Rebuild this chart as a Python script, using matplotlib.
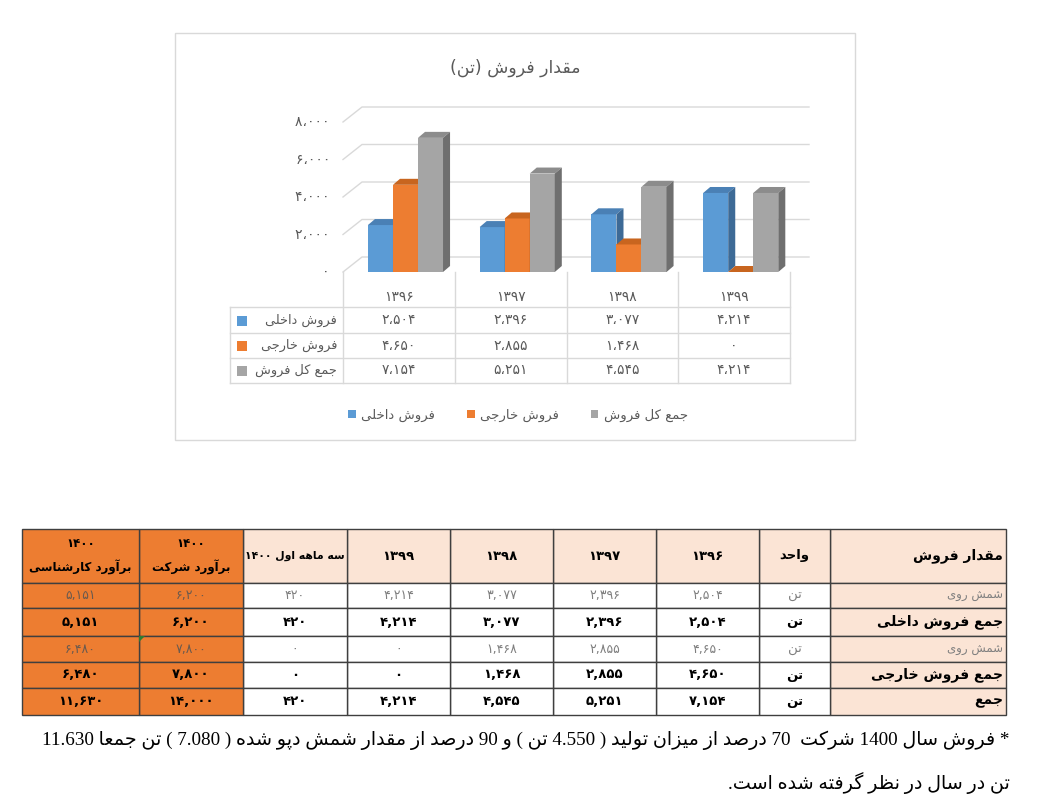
import re
import matplotlib
matplotlib.use('Agg')
import matplotlib.pyplot as plt
from matplotlib.patches import Rectangle, Polygon

plt.rcParams['font.family'] = ['DejaVu Sans']

# ---- data ----
years = ['۱۳۹۶', '۱۳۹۷', '۱۳۹۸', '۱۳۹۹']
domestic = [2504, 2396, 3077, 4214]
export = [4650, 2855, 1468, 0]
total = [7154, 5251, 4545, 4214]
series_names = ['فروش داخلی', 'فروش خارجی', 'جمع کل فروش']
y_ticks = [0, 2000, 4000, 6000, 8000]
chart_title = 'مقدار فروش (تن)'

# lower table, logical (right-to-left) column order
tbl_heads = ['مقدار فروش', 'واحد', '۱۳۹۶', '۱۳۹۷', '۱۳۹۸', '۱۳۹۹',
             'سه ماهه اول ۱۴۰۰', '۱۴۰۰\nبرآورد شرکت', '۱۴۰۰\nبرآورد کارشناسی']
tbl_labels = ['شمش روی', 'جمع فروش داخلی', 'شمش روی', 'جمع فروش خارجی', 'جمع']
tbl_bold = [False, True, False, True, True]
tbl_unit = 'تن'
tbl_vals = [
    [2504, 2396, 3077, 4214, 420, 6200, 5151],
    [2504, 2396, 3077, 4214, 420, 6200, 5151],
    [4650, 2855, 1468, 0, 0, 7800, 6480],
    [4650, 2855, 1468, 0, 0, 7800, 6480],
    [7154, 5251, 4545, 4214, 420, 14000, 11630],
]
note1 = '* فروش سال 1400 شرکت  70 درصد از میزان تولید ( 4.550 تن ) و 90 درصد از مقدار شمش دپو شده ( 7.080 ) تن جمعا 11.630'
note2 = 'تن در سال در نظر گرفته شده است.'

# ---- minimal persian shaping + rtl ordering ----
FORMS = {
    'ا': '\uFE8D\uFE8E', 'آ': '\uFE81\uFE82',
    'ب': '\uFE8F\uFE90\uFE91\uFE92', 'پ': '\uFB56\uFB57\uFB58\uFB59',
    'ت': '\uFE95\uFE96\uFE97\uFE98', 'ج': '\uFE9D\uFE9E\uFE9F\uFEA0',
    'ح': '\uFEA1\uFEA2\uFEA3\uFEA4', 'خ': '\uFEA5\uFEA6\uFEA7\uFEA8',
    'د': '\uFEA9\uFEAA', 'ر': '\uFEAD\uFEAE', 'ز': '\uFEAF\uFEB0',
    'س': '\uFEB1\uFEB2\uFEB3\uFEB4', 'ش': '\uFEB5\uFEB6\uFEB7\uFEB8',
    'ص': '\uFEB9\uFEBA\uFEBB\uFEBC', 'ظ': '\uFEC5\uFEC6\uFEC7\uFEC8',
    'ع': '\uFEC9\uFECA\uFECB\uFECC', 'ف': '\uFED1\uFED2\uFED3\uFED4',
    'ق': '\uFED5\uFED6\uFED7\uFED8', 'ک': '\uFB8E\uFB8F\uFB90\uFB91',
    'گ': '\uFB92\uFB93\uFB94\uFB95', 'ل': '\uFEDD\uFEDE\uFEDF\uFEE0',
    'م': '\uFEE1\uFEE2\uFEE3\uFEE4', 'ن': '\uFEE5\uFEE6\uFEE7\uFEE8',
    'ه': '\uFEE9\uFEEA\uFEEB\uFEEC', 'و': '\uFEED\uFEEE',
    'ی': '\uFBFC\uFBFD\uFBFE\uFBFF',
}


def shape(s):
    out = []
    for i, ch in enumerate(s):
        f = FORMS.get(ch)
        if f is None:
            out.append(ch)
            continue
        prev = s[i - 1] if i > 0 else ''
        nxt = s[i + 1] if i + 1 < len(s) else ''
        jp = prev in FORMS and len(FORMS[prev]) == 4
        jn = len(f) == 4 and nxt in FORMS
        if jp and jn:
            out.append(f[3])
        elif jp:
            out.append(f[1])
        elif jn:
            out.append(f[2])
        else:
            out.append(f[0])
    return ''.join(out)


def fa(s):
    lines = []
    for line in s.split('\n'):
        toks = re.findall(r'[0-9\u06f0-\u06f9]+(?:[.,\u060c][0-9\u06f0-\u06f9]+)*|.', shape(line))
        mirror = {'(': ')', ')': '('}
        lines.append(''.join(mirror.get(t, t) for t in reversed(toks)))
    return '\n'.join(lines)


FA_DIG = str.maketrans('0123456789', '۰۱۲۳۴۵۶۷۸۹')


def fa_num(v, sep=','):
    return f'{v:,}'.replace(',', sep).translate(FA_DIG)


# ---- figure ----
fig = plt.figure(figsize=(10.47, 8.08), dpi=100)
page = fig.add_axes([0, 0, 1, 1], zorder=0)
page.set_xlim(0, 1047)
page.set_ylim(808, 0)
page.axis('off')

GRID = '#D9D9D9'
TXT = '#595959'

# chart panel
page.add_patch(Rectangle((175, 33), 680, 407, facecolor='white', edgecolor=GRID, lw=1))
page.text(515, 68, fa(chart_title), ha='center', va='center', fontsize=12.5, color=TXT)

# bar chart axes: front face, x=-0.5..3.5 over 343..790 px, y=0..8000 over 272..122 px
ax = fig.add_axes([343 / 1047, 1 - 272 / 808, 447 / 1047, 150 / 808], zorder=1)
ax.set_xlim(-0.5, 3.5)
ax.set_ylim(0, 8000)
ax.axis('off')
ax.patch.set_visible(False)

wall_dx, wall_dy = 0.17, 800
for v in y_ticks:
    ax.plot([-0.5, -0.5 + wall_dx, 3.5 + wall_dx], [v, v + wall_dy, v + wall_dy],
            color=GRID, lw=1, clip_on=False, zorder=1)
    ax.text(-0.5, v, fa_num(v, '\u060c') + '   ', ha='right', va='center',
            fontsize=10, color=TXT, clip_on=False)

colors = [('#5B9BD5', '#4A80B5', '#3D6A96'),
          ('#ED7D31', '#C8651F', '#AE5A21'),
          ('#A5A5A5', '#8C8C8C', '#6F6F6F')]
series = [domestic, export, total]
offsets = [-0.165, 0.059, 0.283]
bw = 0.224
bdx, bdy = 0.063, 320
xs = range(len(years))
for s, vals in enumerate(series):
    front, top, side = colors[s]
    pos = [x + offsets[s] for x in xs]
    ax.bar(pos, vals, width=bw, color=front, zorder=3, clip_on=False)
    for p, v in zip(pos, vals):
        x0, x1 = p - bw / 2, p + bw / 2
        ax.add_patch(Polygon([(x0, v), (x1, v), (x1 + bdx, v + bdy), (x0 + bdx, v + bdy)],
                             closed=True, facecolor=top, edgecolor='none', zorder=3, clip_on=False))
        ax.add_patch(Polygon([(x1, 0), (x1 + bdx, bdy), (x1 + bdx, v + bdy), (x1, v)],
                             closed=True, facecolor=side, edgecolor='none', zorder=3, clip_on=False))

# chart data table (pixel layout under the axis)
cw = 447 / 4
row_y = [272, 307, 333, 358, 383]
for i in range(5):
    xv = 343 + i * cw
    page.plot([xv, xv], [272, 383], color=GRID, lw=1)
page.plot([230, 230], [307, 383], color=GRID, lw=1)
for yv in row_y[1:]:
    page.plot([230, 790], [yv, yv], color=GRID, lw=1)
for i, yr in enumerate(years):
    page.text(343 + (i + 0.5) * cw, 297, yr, ha='center', va='center', fontsize=10, color=TXT)
for s, vals in enumerate(series):
    yc = (row_y[s + 1] + row_y[s + 2]) / 2
    page.add_patch(Rectangle((237, yc - 4.5), 10, 10, facecolor=colors[s][0], edgecolor='none'))
    page.text(337, yc, fa(series_names[s]), ha='right', va='center', fontsize=9.3, color=TXT)
    for i, v in enumerate(vals):
        page.text(343 + (i + 0.5) * cw, yc, fa_num(v, '\u060c'), ha='center', va='center',
                  fontsize=10, color=TXT)

handles = [Rectangle((0, 0), 1, 1, facecolor=c[0]) for c in colors]
fig.legend(handles, [fa(n) for n in series_names], ncol=3, loc='center',
           bbox_to_anchor=(518 / 1047, 1 - 415 / 808), frameon=False, fontsize=9.5,
           handlelength=0.6, handleheight=0.6, handletextpad=0.4, columnspacing=2.4,
           labelcolor=TXT)

# ---- lower table ----
col_edges = [1006, 830, 759, 656, 553, 450, 347, 243, 139, 22]   # right to left
row_edges = [529, 583, 608, 636, 662, 688, 715]
ORANGE = '#ED7D31'
PEACH = '#FBE4D5'
LINE = '#3F3F3F'
ncol = len(tbl_heads)


def cell_color(r, c):
    if c >= ncol - 2:
        return ORANGE
    if r == 0 or c == 0:
        return PEACH
    return 'white'


for r in range(len(row_edges) - 1):
    for c in range(ncol):
        xr, xl = col_edges[c], col_edges[c + 1]
        yt, yb = row_edges[r], row_edges[r + 1]
        page.add_patch(Rectangle((xl, yt), xr - xl, yb - yt, facecolor=cell_color(r, c),
                                 edgecolor=LINE, lw=1))

for c, h in enumerate(tbl_heads):
    xr, xl = col_edges[c], col_edges[c + 1]
    yc = (row_edges[0] + row_edges[1]) / 2
    if c == 0:
        page.text(xr - 3, yc, fa(h), ha='right', va='center', fontsize=10, weight='bold')
    elif c == 6:
        page.text((xl + xr) / 2, yc, fa(h), ha='center', va='center', fontsize=7.8,
                  weight='bold')
    elif c > 6:
        page.text((xl + xr) / 2, yc, fa(h), ha='center', va='center', fontsize=8.5,
                  weight='bold', linespacing=1.9)
    else:
        page.text((xl + xr) / 2, yc, fa(h), ha='center', va='center', fontsize=9.5,
                  weight='bold')

for r, (lab, bold, vals) in enumerate(zip(tbl_labels, tbl_bold, tbl_vals)):
    yc = (row_edges[r + 1] + row_edges[r + 2]) / 2
    wt = 'bold' if bold else 'normal'
    col = 'black' if bold else '#7F7F7F'
    page.text(col_edges[0] - 3, yc, fa(lab), ha='right', va='center',
              fontsize=10 if bold else 8.5, weight=wt, color=col)
    page.text((col_edges[1] + col_edges[2]) / 2, yc, fa(tbl_unit), ha='center', va='center',
              fontsize=9.5, weight=wt, color=col)
    for i, v in enumerate(vals):
        c = i + 2
        xc = (col_edges[c] + col_edges[c + 1]) / 2
        page.text(xc, yc, fa_num(v), ha='center', va='center', fontsize=9.5 if bold else 9,
                  weight=wt, color=col if c < ncol - 2 or bold else '#6B5A4E')

# comment marker
page.add_patch(Polygon([(139, 636), (145, 636), (139, 642)], closed=True,
                       facecolor='#2E7D32', edgecolor='none', zorder=5))

# ---- note ----
note_font = ['Liberation Serif', 'DejaVu Sans']
page.text(1010, 740, fa(note1), ha='right', va='center', fontsize=13.8, family=note_font)
page.text(1010, 783, fa(note2), ha='right', va='center', fontsize=13.8, family=note_font)

fig.savefig('out.png', dpi=100)
